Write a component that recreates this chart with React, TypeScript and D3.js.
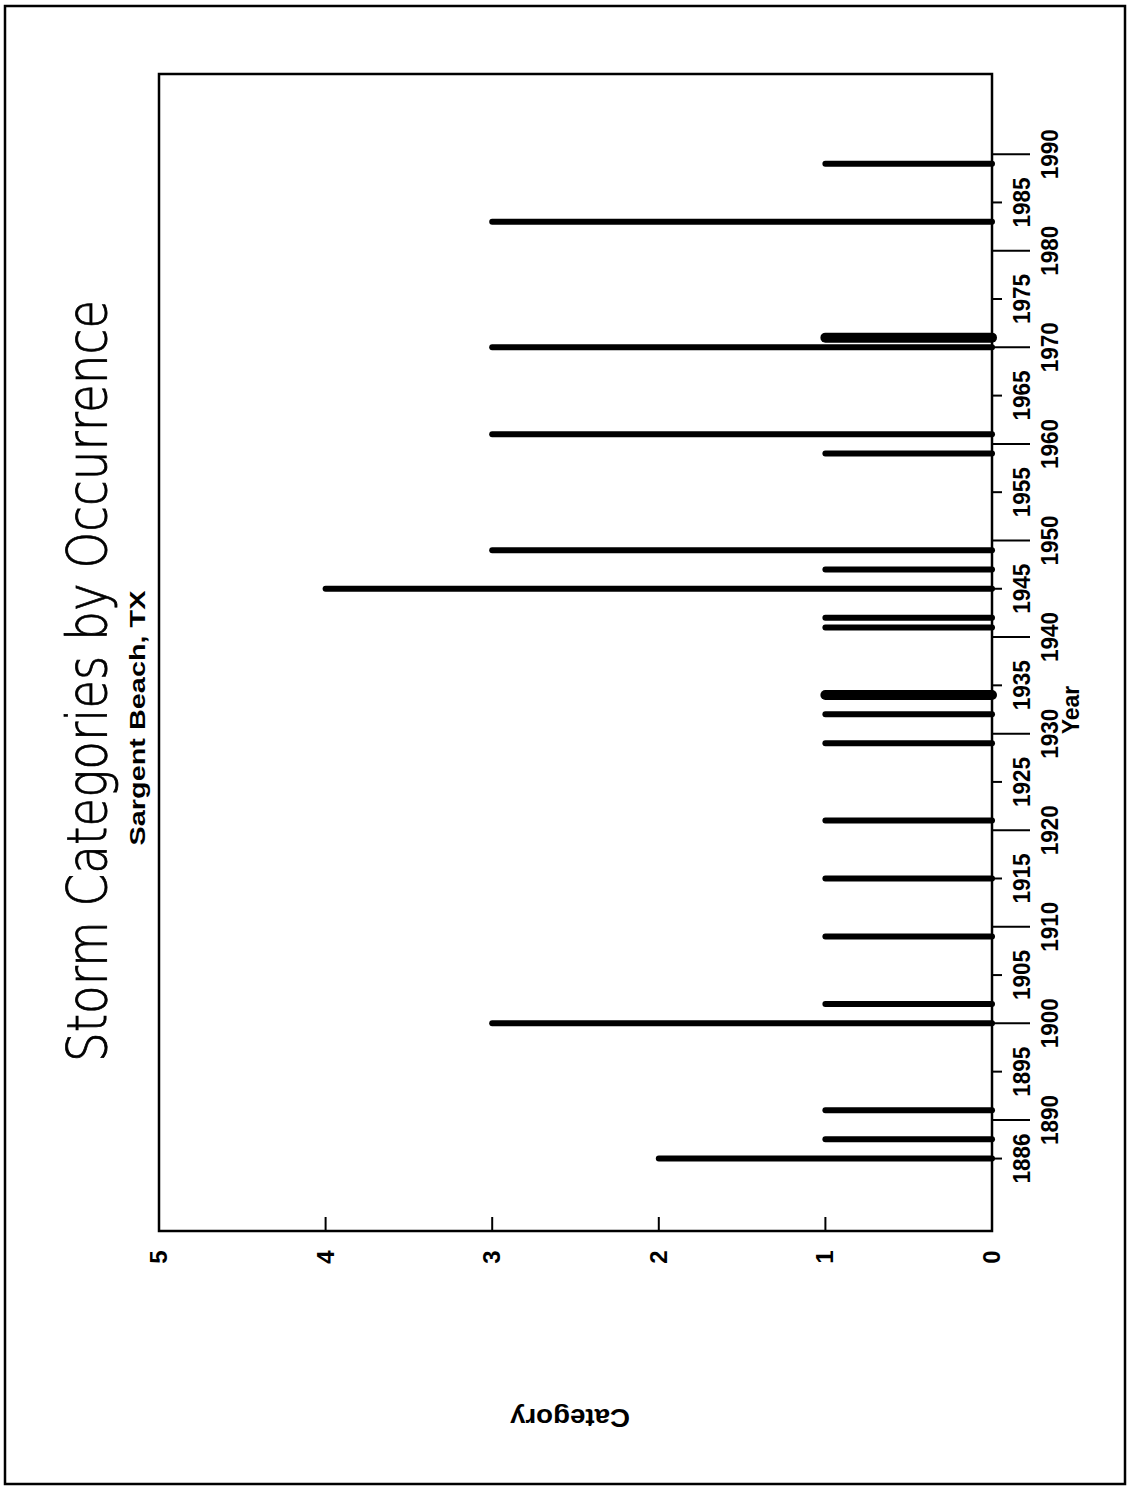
import React from "react";
import * as d3 from "d3";

// ---- data ----
const stormYears = [1886, 1888, 1891, 1900, 1902, 1909, 1915, 1921, 1929, 1932, 1934, 1941, 1942, 1945, 1947, 1949, 1959, 1961, 1970, 1971, 1983, 1989];
const stormCategories = [2, 1, 1, 3, 1, 1, 1, 1, 1, 1, 1, 1, 1, 4, 1, 3, 1, 3, 3, 1, 3, 1];
const stormCounts = [1, 1, 1, 1, 1, 1, 1, 1, 1, 1, 2, 1, 1, 1, 1, 1, 1, 1, 1, 2, 1, 1];
const yearTicks = [1886, 1890, 1895, 1900, 1905, 1910, 1915, 1920, 1925, 1930, 1935, 1940, 1945, 1950, 1955, 1960, 1965, 1970, 1975, 1980, 1985, 1990];
const categoryTicks = [0, 1, 2, 3, 4, 5];
const titleText = "Storm Categories by Occurrence";
const subtitleText = "Sargent Beach, TX";
const yearLabel = "Year";
const categoryLabel = "Category";

const W = 1129;
const H = 1490;

export default function App() {
  const frame = { left: 159, right: 992, top: 74, bottom: 1231 };
  const yearScale = d3.scaleLinear().domain([1878.5, 1998.3]).range([frame.bottom, frame.top]);
  const catScale = d3.scaleLinear().domain([0, 5]).range([frame.right, frame.left]);
  const labelFont = "'Liberation Sans', Arial, sans-serif";

  const bars = stormYears.map((y, i) => ({ year: y, cat: stormCategories[i], count: stormCounts[i] }));

  return (
    <div style={{ position: "absolute", left: 0, top: 0 }}>
      <svg width={W} height={H} viewBox={`0 0 ${W} ${H}`} style={{ display: "block", background: "#fff" }}>
        {/* outer page border */}
        <rect x={5} y={6} width={1120} height={1478} fill="none" stroke="#000" strokeWidth={2.5} />

        {/* plot frame */}
        <rect x={frame.left} y={frame.top} width={frame.right - frame.left} height={frame.bottom - frame.top} fill="none" stroke="#000" strokeWidth={2.5} />

        {/* bars */}
        {bars.map((b, i) => (
          <line
            key={i}
            x1={catScale(0)}
            x2={catScale(b.cat)}
            y1={yearScale(b.year)}
            y2={yearScale(b.year)}
            stroke="#000"
            strokeWidth={b.count > 1 ? 10 : 6}
            strokeLinecap="round"
          />
        ))}

        {/* year ticks */}
        {yearTicks.map((t) => {
          const long = t % 10 === 0;
          const y = yearScale(t);
          return (
            <g key={t}>
              <line x1={frame.right} x2={frame.right + (long ? 38 : 10)} y1={y} y2={y} stroke="#000" strokeWidth={2} />
              <text
                transform={`translate(${long ? 1058 : 1030}, ${y}) rotate(-90)`}
                textAnchor="middle"
                fontFamily={labelFont}
                fontWeight="bold"
                fontSize={24}
                textLength={50}
                lengthAdjust="spacingAndGlyphs"
                fill="#000"
              >
                {t}
              </text>
            </g>
          );
        })}

        {/* category ticks */}
        {categoryTicks.map((t) => {
          const x = catScale(t);
          return (
            <g key={t}>
              {t > 0 && t < 5 && (
                <line x1={x} x2={x} y1={frame.bottom} y2={frame.bottom - 14} stroke="#000" strokeWidth={2} />
              )}
              <text
                transform={`translate(${x + 8}, ${1257}) rotate(-90)`}
                textAnchor="middle"
                fontFamily={labelFont}
                fontWeight="bold"
                fontSize={24}
                fill="#000"
              >
                {t}
              </text>
            </g>
          );
        })}

        {/* title */}
        <text
          transform="translate(106, 681) rotate(-90)"
          textAnchor="middle"
          fontFamily="'DejaVu Sans', sans-serif"
          fontWeight={200}
          fontSize={56}
          textLength={762}
          lengthAdjust="spacingAndGlyphs"
          fill="#000"
          stroke="#000"
          strokeWidth={0.8}
        >
          {titleText}
        </text>

        {/* subtitle */}
        <text
          transform="translate(145, 718) rotate(-90)"
          textAnchor="middle"
          fontFamily={labelFont}
          fontWeight="bold"
          fontSize={22}
          textLength={255}
          lengthAdjust="spacingAndGlyphs"
          fill="#000"
        >
          {subtitleText}
        </text>

        {/* x (year) axis label */}
        <text
          transform="translate(1079, 710) rotate(-90)"
          textAnchor="middle"
          fontFamily={labelFont}
          fontWeight="bold"
          fontSize={23}
          fill="#000"
        >
          {yearLabel}
        </text>

        {/* category axis label (upside down) */}
        <text
          transform="translate(570, 1409) rotate(180)"
          textAnchor="middle"
          fontFamily={labelFont}
          fontWeight="bold"
          fontSize={25}
          textLength={120}
          lengthAdjust="spacingAndGlyphs"
          fill="#000"
        >
          {categoryLabel}
        </text>
      </svg>
    </div>
  );
}
